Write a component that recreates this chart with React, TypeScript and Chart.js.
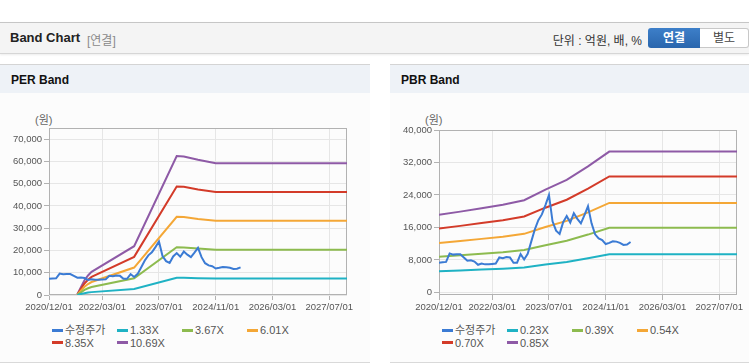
import React, { useEffect, useRef } from 'react';
import { Chart, registerables } from 'chart.js';

Chart.register(...registerables);

// ---------- data ----------
const xTickLabels = ['2020/12/01', '2022/03/01', '2023/07/01', '2024/11/01', '2026/03/01', '2027/07/01'];
const xAxisEnd = '2027/12/01';

const priceLabel = '수정주가';
const priceStart = '2020/12/01';
// monthly adjusted price (원), 2020/12 .. 2025/06
const priceValues = [
  7300, 7400, 7500, 9600, 9300, 9400, 9400, 8600, 7800, 7900,
  7600, 6800, 7100, 6900, 6900, 7000, 7100, 8600, 8400, 8700,
  8600, 7300, 7300, 9400, 8100, 9500, 12500, 15500, 17800, 19200,
  21500, 24000, 17500, 15200, 14400, 17300, 18800, 17200, 19500, 18100,
  17000, 19000, 21200, 17000, 14300, 13300, 12900, 11900, 12200, 12600,
  12500, 12200, 11700, 11800, 12400,
];

// PER band: EPS base
const epsDates = ['2021/08/01', '2021/09/01', '2021/10/01', '2021/11/01', '2021/12/01', '2022/12/01', '2023/12/01', '2024/02/01', '2024/06/01', '2024/11/01', '2027/12/01'];
const epsValues = [30, 330, 620, 820, 970, 2050, 5840, 5820, 5680, 5540, 5540];
const perMultiples = [1.33, 3.67, 6.01, 8.35, 10.69];

// PBR band: BPS base
const bpsDates = ['2020/12/01', '2021/06/01', '2021/12/01', '2022/06/01', '2022/12/01', '2023/06/01', '2023/12/01', '2024/06/01', '2024/12/01', '2027/12/01'];
const bpsValues = [22500, 23400, 24400, 25400, 26700, 29800, 32600, 36500, 40800, 40800];
const pbrMultiples = [0.23, 0.39, 0.54, 0.70, 0.85];

const perYTicks = [0, 10000, 20000, 30000, 40000, 50000, 60000, 70000];
const perYMax = 75000;
const pbrYTicks = [0, 8000, 16000, 24000, 32000, 40000];
const pbrYMin = -650;
const pbrYMax = 40000;

const priceColor = '#3b7bd4';
const bandColors = ['#1fb2c4', '#8dbb4f', '#f4a736', '#d33b29', '#8e5aa6'];

// ---------- helpers ----------
const toMonth = (s: string) => {
  const [y, m, d] = s.split('/').map(Number);
  return (y - 2020) * 12 + (m - 12) + ((d || 1) - 1) / 30;
};

const tickFont = { family: '"Liberation Sans", Arial, sans-serif', size: 9.5 };

const framePlugin = {
  id: 'frame',
  beforeDatasetsDraw(chart: any) {
    const { ctx, chartArea } = chart;
    const l = Math.round(chartArea.left) + 0.5;
    const t = Math.round(chartArea.top) + 0.5;
    const r = Math.round(chartArea.right) - 0.5;
    const b = Math.round(chartArea.bottom) - 0.5;
    ctx.save();
    ctx.strokeStyle = '#b2b2b2';
    ctx.lineWidth = 1;
    ctx.strokeRect(l, t, r - l, b - t);
    ctx.restore();
  },
};

function buildDatasets(baseDates: string[], baseValues: number[], multiples: number[]) {
  const priceStartM = toMonth(priceStart);
  const ds: any[] = [
    {
      label: priceLabel,
      data: priceValues.map((v, i) => ({ x: priceStartM + i, y: v })),
      borderColor: priceColor,
      backgroundColor: priceColor,
      borderWidth: 2,
    },
  ];
  multiples.forEach((k, j) => {
    ds.push({
      label: k.toFixed(2) + 'X',
      data: baseDates.map((d, i) => ({ x: toMonth(d), y: Math.round(baseValues[i] * k) })),
      borderColor: bandColors[j],
      backgroundColor: bandColors[j],
      borderWidth: 2,
    });
  });
  return ds;
}

function makeOptions(yTicks: number[], yMin: number, yMax: number, padding: any) {
  return {
    animation: false,
    responsive: false,
    maintainAspectRatio: false,
    layout: { padding },
    plugins: { legend: { display: false }, tooltip: { enabled: false } },
    elements: { point: { radius: 0 }, line: { tension: 0 } },
    scales: {
      x: {
        type: 'linear',
        min: 0,
        max: toMonth(xAxisEnd),
        afterBuildTicks: (s: any) => {
          s.ticks = xTickLabels.map((l) => ({ value: toMonth(l) }));
        },
        afterFit: (s: any) => {
          s.height = 20;
        },
        ticks: {
          autoSkip: false,
          maxRotation: 0,
          minRotation: 0,
          padding: 2,
          color: '#555',
          font: tickFont,
          callback: (_v: any, i: number) => xTickLabels[i],
        },
        grid: { color: '#e6e6e6', tickColor: '#b2b2b2', tickLength: 5 },
        border: { display: false },
      },
      y: {
        type: 'linear',
        min: yMin,
        max: yMax,
        afterBuildTicks: (s: any) => {
          s.ticks = yTicks.map((v) => ({ value: v }));
        },
        afterFit: (s: any) => {
          s.width = 49;
        },
        ticks: {
          padding: 2,
          color: '#555',
          font: tickFont,
          callback: (v: any) => Number(v).toLocaleString('en-US'),
        },
        grid: { color: '#e6e6e6', tickColor: '#b2b2b2', tickLength: 5 },
        border: { display: false },
      },
    },
  };
}

function BandChart(props: {
  left: number;
  width: number;
  baseDates: string[];
  baseValues: number[];
  multiples: number[];
  yTicks: number[];
  yMin: number;
  yMax: number;
  padding: any;
}) {
  const ref = useRef<HTMLCanvasElement | null>(null);
  useEffect(() => {
    if (!ref.current) return;
    const chart = new Chart(ref.current, {
      type: 'line',
      data: { datasets: buildDatasets(props.baseDates, props.baseValues, props.multiples) },
      options: makeOptions(props.yTicks, props.yMin, props.yMax, props.padding) as any,
      plugins: [framePlugin],
    });
    return () => chart.destroy();
  }, []);
  return (
    <canvas
      ref={ref}
      width={props.width}
      height={200}
      style={{ position: 'absolute', left: props.left, top: 120, width: props.width, height: 200 }}
    />
  );
}

function Legend(props: { left: number; labels: string[] }) {
  const colors = [priceColor, ...bandColors];
  return (
    <div
      style={{
        position: 'absolute',
        left: props.left,
        top: 324,
        display: 'grid',
        gridTemplateColumns: 'repeat(4, 65px)',
      }}
    >
      {props.labels.map((l, i) => (
        <div key={l} style={{ display: 'flex', alignItems: 'center', height: 12.6, whiteSpace: 'nowrap' }}>
          <span style={{ display: 'inline-block', width: 11, height: 3, background: colors[i], marginRight: 2 }} />
          <span style={{ fontSize: 11, color: '#555', lineHeight: '12px' }}>{l}</span>
        </div>
      ))}
    </div>
  );
}

function Panel(props: { left: number; width: number; title: string }) {
  return (
    <div
      style={{
        position: 'absolute',
        left: props.left,
        top: 64,
        width: props.width,
        height: 297,
        background: '#fcfcfc',
        borderTop: '1px solid #d4d4d4',
        borderBottom: '1px solid #d9d9d9',
      }}
    >
      <div
        style={{
          height: 28,
          background: '#eef2f7',
          fontSize: 12,
          fontWeight: 'bold',
          color: '#111',
          lineHeight: '30px',
          paddingLeft: 11,
        }}
      >
        {props.title}
      </div>
    </div>
  );
}

export default function App() {
  const perLabels = [priceLabel, ...perMultiples.map((k) => k.toFixed(2) + 'X')];
  const pbrLabels = [priceLabel, ...pbrMultiples.map((k) => k.toFixed(2) + 'X')];
  return (
    <div
      style={{
        position: 'relative',
        width: 749,
        height: 364,
        overflow: 'hidden',
        background: '#fff',
        fontFamily: '"Liberation Sans", Arial, "Noto Sans CJK KR", sans-serif',
      }}
    >
      <style>{'body{margin:0;}'}</style>
      {/* top header */}
      <div
        style={{
          position: 'absolute',
          left: 0,
          top: 22,
          width: 749,
          height: 30,
          background: '#f4f4f4',
          borderTop: '1px solid #c6c6c6',
          borderBottom: '1px solid #d6d6d6',
          boxShadow: '0 1px 2px rgba(0,0,0,0.08)',
        }}
      >
        <span style={{ position: 'absolute', left: 10, top: 7, fontSize: 13, fontWeight: 'bold', color: '#222' }}>Band Chart</span>
        <span style={{ position: 'absolute', left: 87, top: 8, fontSize: 12, color: '#8a8a8a' }}>[연결]</span>
        <span style={{ position: 'absolute', right: 107, top: 8, fontSize: 12, color: '#333', whiteSpace: 'nowrap' }}>단위 : 억원, 배, %</span>
        <div
          style={{
            position: 'absolute',
            left: 648,
            top: 5,
            width: 52,
            height: 20,
            background: 'linear-gradient(#3d7fc9, #2a66ad)',
            borderRadius: '3px 0 0 3px',
            color: '#fff',
            fontSize: 12,
            fontWeight: 'bold',
            textAlign: 'center',
            lineHeight: '20px',
          }}
        >
          연결
        </div>
        <div
          style={{
            position: 'absolute',
            left: 700,
            top: 5,
            width: 48,
            height: 18,
            background: '#fff',
            border: '1px solid #c8c8c8',
            borderLeft: 'none',
            borderRadius: '0 3px 3px 0',
            color: '#444',
            fontSize: 12,
            textAlign: 'center',
            lineHeight: '18px',
          }}
        >
          별도
        </div>
      </div>

      <Panel left={0} width={370} title="PER Band" />
      <Panel left={390} width={359} title="PBR Band" />

      <span style={{ position: 'absolute', left: 35, top: 111, fontSize: 11, color: '#666' }}>(원)</span>
      <span style={{ position: 'absolute', left: 425, top: 111, fontSize: 11, color: '#666' }}>(원)</span>

      <BandChart
        left={0}
        width={362}
        baseDates={epsDates}
        baseValues={epsValues}
        multiples={perMultiples}
        yTicks={perYTicks}
        yMin={0}
        yMax={perYMax}
        padding={{ left: 0, top: 8, right: 15, bottom: 5 }}
      />
      <BandChart
        left={390}
        width={359}
        baseDates={bpsDates}
        baseValues={bpsValues}
        multiples={pbrMultiples}
        yTicks={pbrYTicks}
        yMin={pbrYMin}
        yMax={pbrYMax}
        padding={{ left: 0, top: 10, right: 12, bottom: 5 }}
      />

      <Legend left={52} labels={perLabels} />
      <Legend left={442} labels={pbrLabels} />
    </div>
  );
}
